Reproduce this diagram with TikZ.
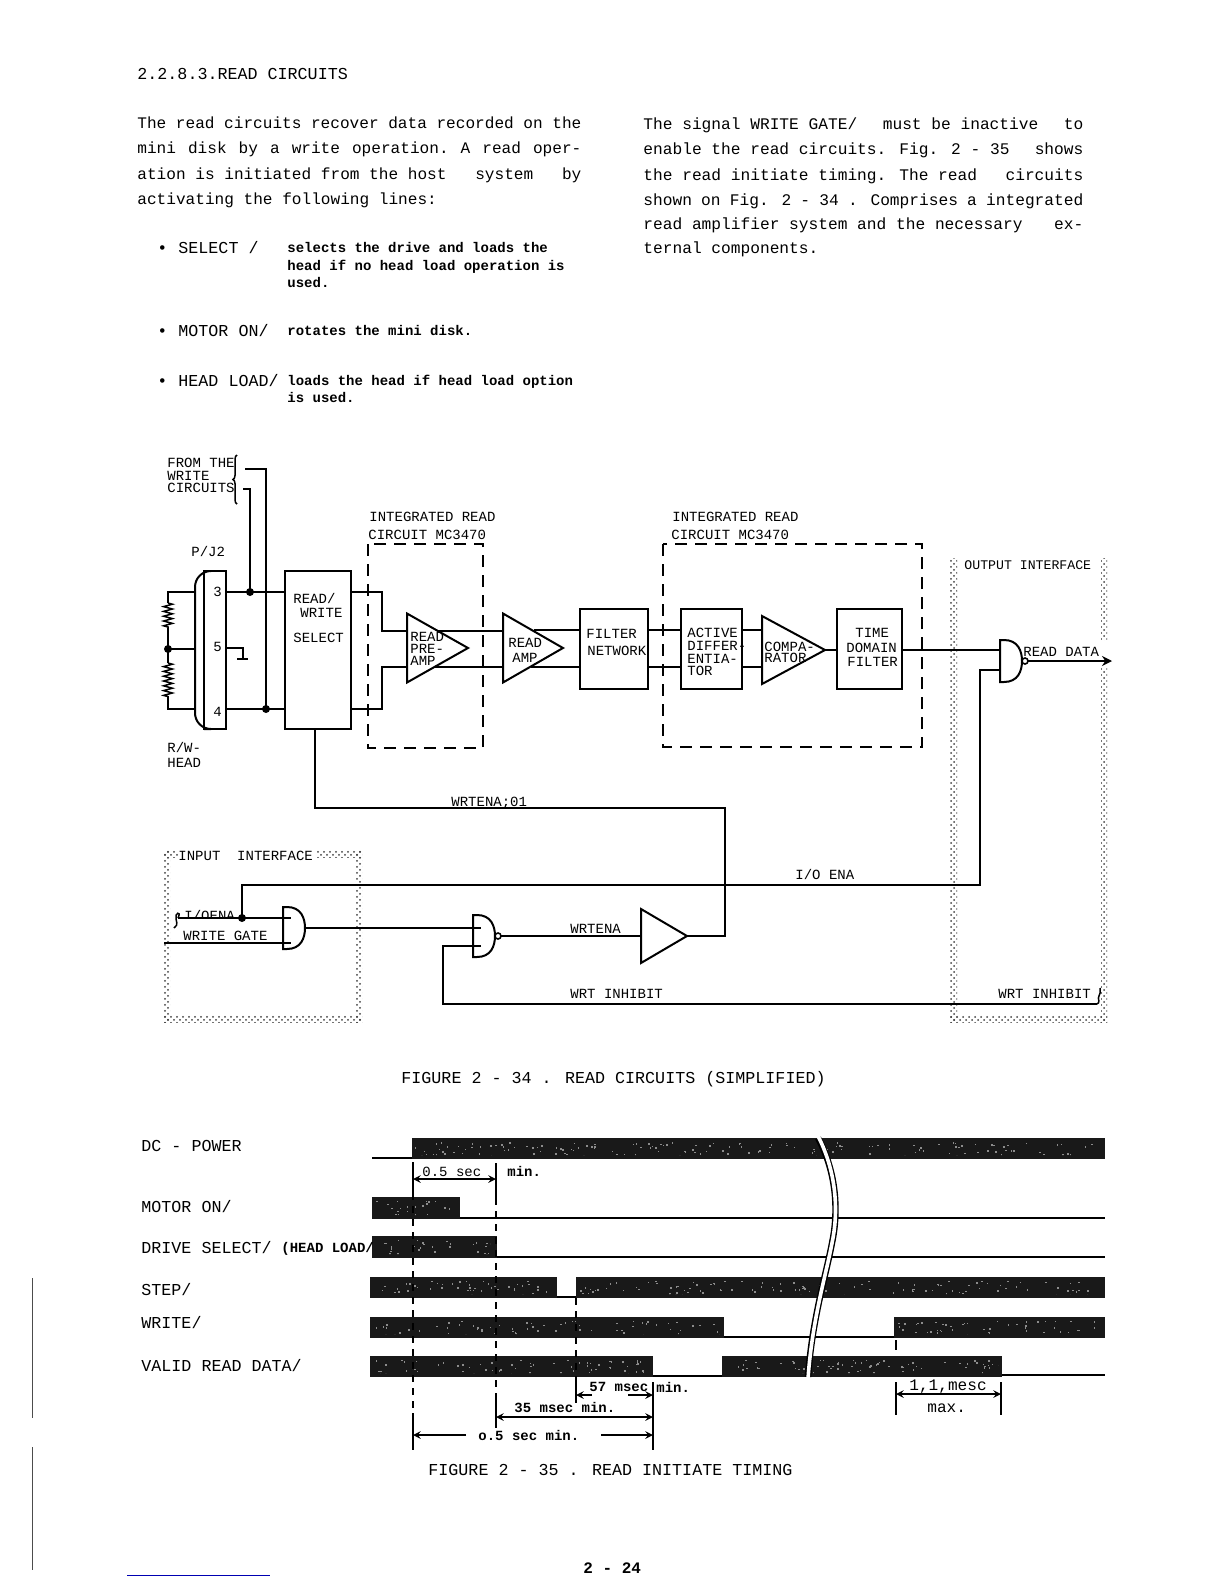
\documentclass[tikz,border=0pt]{standalone}
\usepackage{fontspec}
\setmainfont{Liberation Mono}
\usetikzlibrary{shapes.geometric,arrows.meta,decorations.pathmorphing,decorations.pathreplacing,patterns}
\def\wgap{\hspace{0pt plus 1fil}}
\def\gatepath{(0,-21) -- (0,21) -- (4,21) .. controls (18,21) and (22,10) .. (22,0) .. controls (22,-10) and (18,-21) .. (4,-21) -- cycle}
\tikzset{
   x=0.5pt, y=-0.5pt,
   lefttext/.style={anchor=base west, inner sep=0pt, yshift=-2.5pt, font=\fontsize{8.05}{9}\selectfont},
   bodytext/.style={anchor=base west, inner sep=0pt, yshift=-2.5pt, font=\fontsize{8.35}{9}\selectfont},
   righttext/.style={anchor=base west, inner sep=0pt, yshift=-2.5pt, font=\fontsize{8.1}{9}\selectfont},
   notetext/.style={anchor=base west, inner sep=0pt, yshift=-2pt, font=\fontsize{7}{8}\selectfont\bfseries},
   difftext/.style={anchor=base west, inner sep=0pt, yshift=-2pt, font=\fontsize{7}{8}\selectfont},
   blockbox/.style={draw=black, line width=1pt, inner sep=0pt, outer sep=0pt},
   ampnode/.style={draw=black, line width=1pt, isosceles triangle, isosceles triangle stretches, inner sep=0pt, outer sep=0pt, anchor=lower side},
   gateline/.style={draw=black, line width=1pt},
   bubble/.style={circle, draw=black, line width=0.8pt, inner sep=0pt, minimum size=3pt},
   wire/.style={line width=0.75pt},
   dashbox/.style={line width=0.6pt, dash pattern=on 6pt off 4pt},
   dotband/.style={pattern=crosshatch dots, pattern color=black!75},
   jointdot/.style={circle, fill=black, inner sep=0pt, minimum size=4pt},
   resistor/.style={wire, decorate, decoration={zigzag, segment length=2.4pt, amplitude=2.2pt}},
   timebar/.style={fill=black!90},
   timeline/.style={line width=1.1pt},
   guide/.style={line width=0.7pt},
   guidedash/.style={line width=0.7pt, dash pattern=on 3.5pt off 3pt},
   dimarrow/.style={line width=0.7pt, <->, >=stealth},
   pics/andshape/.style={code={
      \draw[gateline] \gatepath;
      \coordinate (-out) at (22,0);
   }},
   pics/nandshape/.style={code={
      \draw[gateline] \gatepath;
      \node[bubble] (-bub) at (25,0) {};
      \coordinate (-out) at (28,0);
   }}
}
\begin{document}
\begin{tikzpicture}
\useasboundingbox (0,0) rectangle (1224,1584);

% text of the page
\node[bodytext] (pagehead) at (137,75) {2.2.8.3.READ CIRCUITS};
\foreach \ly/\ltext [count=\i] in {123/{The read circuits recover data recorded on the},
    149/{mini\wgap~disk\wgap~by\wgap~a\wgap~write\wgap~operation.\wgap~A\wgap~read\wgap~oper-},
    174/{ation is initiated from the host~\wgap system~\wgap by},
    199/{activating the following lines:\hfill}} {
    \node[lefttext] (leftline\i) at (137,\ly) {\makebox[222pt][s]{\ltext}};
}
\foreach \ly/\ltext [count=\i] in {125/{The signal WRITE GATE/~\wgap must be inactive~\wgap to},
    150/{enable the read circuits. Fig. 2 - 35~\wgap shows},
    175/{the read initiate timing. The read~\wgap circuits},
    200/{shown on Fig. 2 - 34 . Comprises a\wgap~integrated},
    224/{read amplifier system and the necessary~\wgap ex-},
    248/{ternal components.\hfill}} {
    \node[righttext] (rightline\i) at (643,\ly) {\makebox[220pt][s]{\ltext}};
}
\foreach \ly/\ltext [count=\i] in {248/{SELECT /},331/{MOTOR ON/},381/{HEAD LOAD/}} {
    \node[bodytext] (signame\i) at (178,\ly) {\ltext};
    \node[bodytext] (sigdot\i) at (157,\ly) {•};
}
\foreach \ly/\ltext [count=\i] in {248/{selects the drive and loads the},
    266/{head if no head load operation is},
    283/{used.},
    331/{rotates the mini disk.},
    381/{loads the head if head load option},
    398/{is used.}} {
    \node[notetext] (noteline\i) at (287,\ly) {\ltext};
}

% dotted interface frames
\fill[dotband] (950,558) rectangle (957,1022);
\fill[dotband] (1101,558) rectangle (1107,640);
\fill[dotband] (1101,668) rectangle (1107,1022);
\fill[dotband] (950,1015) rectangle (1107,1022);
\fill[dotband] (164,850) rectangle (170,1022);
\fill[dotband] (355,850) rectangle (362,1022);
\fill[dotband] (164,1015) rectangle (362,1022);
\fill[dotband] (164,850) rectangle (178,857);
\fill[dotband] (317,850) rectangle (362,857);

% dashed circuit outlines
\draw[dashbox] (368,544) rectangle (483,748);
\draw[dashbox] (663,544) rectangle (922,747);

% blocks
\draw[blockbox, rounded corners=8pt] (204,571) -- (195,571) -- (195,729) -- (204,729);
\node[blockbox, minimum width=11pt, minimum height=79pt] (pjtwo) at (215,650) {};
\node[blockbox, minimum width=33pt, minimum height=79pt] (rwsel) at (318,650) {};
\node[blockbox, minimum width=34pt, minimum height=40pt] (filter) at (614,649) {};
\node[blockbox, minimum width=30.5pt, minimum height=40pt] (active) at (711,649) {};
\node[blockbox, minimum width=32.5pt, minimum height=40pt] (timedom) at (869,649) {};
\node[ampnode, minimum width=34.5pt, minimum height=30.5pt] (preamp) at (407,648) {};
\node[ampnode, minimum width=34.5pt, minimum height=30pt] (readamp) at (503,648) {};
\node[ampnode, minimum width=34pt, minimum height=31.5pt] (compar) at (762,650) {};
\node[ampnode, minimum width=27pt, minimum height=23pt] (wrtdrv) at (641,936) {};
\pic (rdnand) at (1000,661) {nandshape};
\pic (wrand) at (283,928) {andshape};
\pic (wrnand) at (473,936) {nandshape};

% head and connector
\coordinate (hd3) at (226,592);
\coordinate (hd5) at (226,648);
\coordinate (hd4) at (226,709);
\coordinate (jt3) at (250,592);
\coordinate (jt4) at (266,709);
\coordinate (lft3) at (195,592);
\coordinate (lft5) at (195,649);
\coordinate (lft4) at (195,709);
\coordinate (rtop) at (168,603);
\coordinate (rupp) at (168,628);
\coordinate (rmid) at (168,649);
\coordinate (rlow) at (168,663);
\coordinate (rbot) at (168,697);
\draw[wire] (lft3) -| (rtop);
\draw[resistor] (rtop) -- (rupp);
\draw[wire] (rupp) -- (rlow);
\draw[resistor] (rlow) -- (rbot);
\draw[wire] (rbot) |- (lft4);
\draw[wire] (rmid) -- (lft5);
\node[jointdot] (dotmid) at (rmid) {};
\draw[wire] (hd3) -- (hd3 -| rwsel.west);
\draw[wire] (hd4) -- (hd4 -| rwsel.west);
\coordinate (gnd) at (243,658);
\draw[wire] (hd5) -| (gnd);
\draw[line width=1.3pt] (237,659) -- (248,659);
\node[jointdot] (dottop) at (jt3) {};
\node[jointdot] (dotbot) at (jt4) {};
\coordinate (wrin1) at (245,469);
\coordinate (wrin2) at (243,489);
\draw[wire] (wrin1) -| (jt4);
\draw[wire] (wrin2) -| (jt3);
\draw[wire, decorate, decoration={brace, amplitude=2pt}] (237,504) -- (237,455);

% read path
\coordinate (prein1) at (407,631);
\coordinate (prein2) at (407,667);
\coordinate (preout1) at (438,631);
\coordinate (preout2) at (434,667);
\coordinate (ampin1) at (503,631);
\coordinate (ampin2) at (503,667);
\coordinate (ampout1) at (534,630);
\coordinate (ampout2) at (531,667);
\coordinate (cmpin1) at (762,630);
\coordinate (cmpin2) at (762,667);
\coordinate (nandin1) at (1000,650);
\coordinate (nandin2) at (1000,670);
\draw[wire] (hd3 -| rwsel.east) -| (382,631) -- (prein1);
\draw[wire] (hd4 -| rwsel.east) -| (382,667) -- (prein2);
\draw[wire] (preout1) -- (ampin1);
\draw[wire] (preout2) -- (ampin2);
\draw[wire] (ampout1) -- (ampout1 -| filter.west);
\draw[wire] (ampout2) -- (ampout2 -| filter.west);
\draw[wire] (filter.east |- cmpin1) -- (cmpin1 -| active.west);
\draw[wire] (filter.east |- cmpin2) -- (cmpin2 -| active.west);
\draw[wire] (active.east |- cmpin1) -- (cmpin1);
\draw[wire] (active.east |- cmpin2) -- (cmpin2);
\draw[wire] (compar.apex) -- (compar.apex -| timedom.west);
\draw[wire] (nandin1 -| timedom.east) -- (nandin1);
\draw[wire, -{Stealth[length=5pt,width=5pt]}] (rdnand-out) -- (1112,661);

% write path
\coordinate (enab) at (242,918);
\coordinate (enaup) at (242,885);
\coordinate (enard) at (980,885);
\coordinate (squiga) at (178,918);
\coordinate (gatein) at (164,943);
\coordinate (rwdown) at (315,808);
\coordinate (rwright) at (725,808);
\coordinate (andin1) at (283,918);
\coordinate (andin2) at (283,943);
\coordinate (wrin) at (473,928);
\coordinate (wrinb) at (473,946);
\coordinate (inhibup) at (443,946);
\coordinate (inhib) at (443,1004);
\coordinate (inhibend) at (1097,1004);
\draw[wire] (rwsel.south -| rwdown) -- (rwdown) -- (rwright) |- (wrtdrv.apex);
\draw[wire] (nandin2) -| (enard) -- (enaup) -- (enab);
\draw[wire] (squiga) -- (andin1) -- ++(8,0);
\draw[wire] (squiga) .. controls (182,910) and (174,913) .. (176,919) .. controls (178,925) and (176,927) .. (174,928);
\node[jointdot] (dotena) at (enab) {};
\draw[wire] (gatein) -- (andin2) -- ++(8,0);
\draw[wire] (wrand-out) -- (wrin) -- ++(8,0);
\draw[wire] (wrnand-out) -- (wrtdrv.lower side);
\draw[wire] (wrinb) ++(8,0) -- (inhibup) -- (inhib) -- (inhibend);
\draw[wire] (inhibend) .. controls (1101,1003) and (1097,998) .. (1099,996) .. controls (1101,994) and (1100,991) .. (1100,988);

% labels of the circuit
\foreach \lx/\ly/\ltext [count=\i] in {167/463/{FROM THE},167/476/{WRITE},167/488/{CIRCUITS},
    191/552/{P/J2},213/592/{3},213/647/{5},213/712/{4},167/748/{R/W-},167/763/{HEAD},
    293/599/{READ/},300/613/{WRITE},293/638/{SELECT},
    369/517/{INTEGRATED READ},368/535/{CIRCUIT MC3470},
    410/637/{READ},410/649/{PRE-},410/661/{AMP},
    508/643/{READ},512/658/{AMP},
    586/634/{FILTER},587/651/{NETWORK},
    672/517/{INTEGRATED READ},671/535/{CIRCUIT MC3470},
    687/633/{ACTIVE},687/646/{DIFFER-},687/659/{ENTIA-},687/671/{TOR},
    764/647/{COMPA-},764/658/{RATOR},
    855/633/{TIME},846/648/{DOMAIN},847/662/{FILTER},
    1023/652/{READ DATA},
    451/802/{WRTENA;01},795/875/{I/O ENA},
    178/856/{INPUT~~INTERFACE},183/936/{WRITE GATE},
    570/929/{WRTENA},570/994/{WRT INHIBIT},998/994/{WRT INHIBIT}} {
    \node[difftext] (circlab\i) at (\lx,\ly) {\ltext};
}
\node[difftext, font=\fontsize{6.6}{8}\selectfont] (outlab) at (964,565) {OUTPUT INTERFACE};
\begin{scope}
    \clip (180,900) rectangle (240,918);
    \node[difftext] (enalab) at (184,916) {I/OENA};
\end{scope}
\node[bodytext] (figcapa) at (401,1078) {FIGURE 2 - 34 . READ CIRCUITS (SIMPLIFIED)};

% timing bars
\foreach \bl/\bt/\br/\bb in {412/1138/1105/1159, 372/1197/460/1219, 372/1236/497/1258,
    370/1277/557/1298, 576/1277/1105/1298, 370/1317/724/1338, 894/1317/1105/1338,
    370/1356/653/1377, 722/1356/1002/1377} {
    \fill[timebar] (\bl,\bt) rectangle (\br,\bb);
}
\foreach \al/\ar/\ay in {372/412/1158, 460/1105/1218, 497/1105/1257, 557/576/1297,
    724/894/1337, 653/722/1376, 1002/1105/1375} {
    \draw[timeline] (\al,\ay) -- (\ar,\ay);
}
\begin{scope}
    \clip (414,1142) rectangle (1095,1155) (376,1201) rectangle (450,1215) (376,1240) rectangle (490,1254)
        (376,1281) rectangle (552,1294) (580,1281) rectangle (1095,1294) (376,1321) rectangle (720,1334)
        (898,1321) rectangle (1095,1334) (376,1360) rectangle (650,1373) (726,1360) rectangle (998,1373);
    \pgfmathsetseed{7}
    \foreach \s in {1,...,2600} {
        \pgfmathsetmacro{\sx}{370+735*rnd}
        \pgfmathsetmacro{\sy}{1142+235*rnd}
        \fill[black!45] (\sx,\sy) rectangle ++(1.5,1.5);
    }
\end{scope}
\draw[black, line width=3.2pt] (818,1138) .. controls (838,1175) and (838,1215) .. (832,1243) .. controls (826,1275) and (812,1320) .. (808,1377);
\draw[white, line width=1.8pt] (818,1136) .. controls (838,1175) and (838,1215) .. (832,1243) .. controls (826,1275) and (812,1320) .. (808,1379);

% timing guides
\foreach \gx/\gt/\gb in {413/1193/1413, 496/1198/1397, 576/1298/1380} {
    \draw[guidedash] (\gx,\gt) -- (\gx,\gb);
}
\foreach \gx/\gt/\gb in {413/1162/1193, 413/1413/1450, 496/1163/1198, 496/1397/1428,
    576/1380/1403, 653/1382/1450, 896/1340/1350, 896/1382/1415, 1001/1382/1415} {
    \draw[guide] (\gx,\gt) -- (\gx,\gb);
}
\draw[dimarrow] (413,1179) -- (496,1179);
\draw[dimarrow, ->] (592,1395) -- (576,1395);
\draw[dimarrow, ->] (628,1395) -- (653,1395);
\draw[dimarrow] (496,1417) -- (653,1417);
\draw[dimarrow, ->] (466,1435) -- (413,1435);
\draw[dimarrow, ->] (601,1435) -- (653,1435);
\draw[dimarrow] (896,1394) -- (1001,1394);

% labels of the timing
\foreach \ly/\ltext [count=\i] in {1146/{DC - POWER},1207/{MOTOR ON/},1248/{DRIVE SELECT/},
    1290/{STEP/},1323/{WRITE/},1366/{VALID READ DATA/}} {
    \node[bodytext] (sigtime\i) at (141,\ly) {\ltext};
}
\node[notetext] (sighead) at (281,1248) {(HEAD LOAD/};
\node[difftext] (timesec) at (422,1172) {0.5 sec};
\foreach \lx/\ly/\ltext [count=\i] in {507/1172/{min.},589/1387/{57 msec},
    656/1388/{min.},514/1408/{35 msec min.},478/1436/{o.5 sec min.}} {
    \node[notetext] (timelab\i) at (\lx,\ly) {\ltext};
}
\node[lefttext] (timemax) at (909,1385) {1,1,mesc};
\node[lefttext] (timemaxb) at (927,1407) {max.};
\node[bodytext] (figcapb) at (428,1470) {FIGURE 2 - 35 . READ INITIATE TIMING};
\node[lefttext, font=\fontsize{8}{9}\selectfont\bfseries] (pagenum) at (583,1568) {2 - 24};

% edge of the sheet
\draw[blue!70!black, line width=0.4pt] (127,1575) -- (270,1575);
\draw[black!70, line width=0.5pt] (32,1278) -- (32,1418);
\draw[black!70, line width=0.5pt] (32,1447) -- (32,1570);
\end{tikzpicture}
\end{document}
